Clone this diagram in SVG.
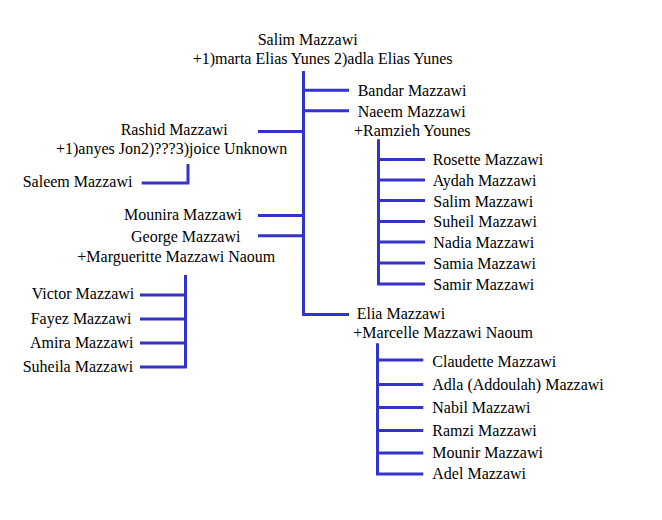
<svg xmlns="http://www.w3.org/2000/svg" width="662" height="520" viewBox="0 0 662 520">
<style>
text{font-family:"Liberation Serif","Times New Roman",serif;font-size:16px;fill:#000}
.c{fill:none;stroke:#3333cc;stroke-width:3}
</style>
<rect width="662" height="520" fill="#fff"/>
<g id="connectors">
<path class="c" d="M303.5 71V316M303.5 90.3H349M303.5 110.8H349M258 131.5H303.5M258 215.5H303.5M258 235.8H303.5M303.5 314.5H349"/>
<path class="c" d="M188 164V183H141.7"/>
<path class="c" d="M185.5 275V368.5M140 295H185.5M140 319H185.5M140 343H185.5M140 367H185.5"/>
<path class="c" d="M378.5 139.3V285.5M378.5 159.5H425M378.5 180H425M378.5 200.5H425M378.5 221.5H425M378.5 242H425M378.5 263H425M378.5 284H425"/>
<path class="c" d="M377.5 343.3V475.5M377.5 360H423.3M377.5 384.5H423.3M377.5 407.5H423.3M377.5 430.5H423.3M377.5 453H423.3M377.5 474H423.3"/>
</g>
<g id="nodes" transform="translate(0,1)">
<g id="salim"><text x="257.7" y="44">Salim Mazzawi</text><text x="192.7" y="63">+1)marta Elias Yunes 2)adla Elias Yunes</text></g>
<g id="bandar"><text x="357.7" y="95">Bandar Mazzawi</text></g>
<g id="naeem"><text x="357.7" y="116">Naeem Mazzawi</text><text x="354" y="135">+Ramzieh Younes</text></g>
<g id="rashid"><text x="120.7" y="134">Rashid Mazzawi</text><text x="56" y="152.7">+1)anyes Jon2)???3)joice Unknown</text></g>
<g id="saleem"><text x="22.7" y="186">Saleem Mazzawi</text></g>
<g id="mounira"><text x="124" y="219.3">Mounira Mazzawi</text></g>
<g id="george"><text x="131" y="240.7">George Mazzawi</text><text x="77.3" y="260.7">+Margueritte Mazzawi Naoum</text></g>
<g id="victor"><text x="31.7" y="298.3">Victor Mazzawi</text></g>
<g id="fayez"><text x="30.7" y="322.7">Fayez Mazzawi</text></g>
<g id="amira"><text x="30" y="347.3">Amira Mazzawi</text></g>
<g id="suheila"><text x="22.7" y="370.7">Suheila Mazzawi</text></g>
<g id="rosette"><text x="432.7" y="164">Rosette Mazzawi</text></g>
<g id="aydah"><text x="432.7" y="185">Aydah Mazzawi</text></g>
<g id="salim2"><text x="433.3" y="205.7">Salim Mazzawi</text></g>
<g id="suheil"><text x="433.3" y="226">Suheil Mazzawi</text></g>
<g id="nadia"><text x="433.3" y="247.3">Nadia Mazzawi</text></g>
<g id="samia"><text x="433.3" y="268.3">Samia Mazzawi</text></g>
<g id="samir"><text x="433.3" y="289">Samir Mazzawi</text></g>
<g id="elia"><text x="356.7" y="318.3">Elia Mazzawi</text><text x="353.3" y="336.7">+Marcelle Mazzawi Naoum</text></g>
<g id="claudette"><text x="432.3" y="366">Claudette Mazzawi</text></g>
<g id="adla"><text x="432.3" y="389.3">Adla (Addoulah) Mazzawi</text></g>
<g id="nabil"><text x="432.3" y="411.7">Nabil Mazzawi</text></g>
<g id="ramzi"><text x="432.3" y="435">Ramzi Mazzawi</text></g>
<g id="mounir"><text x="432.3" y="457.3">Mounir Mazzawi</text></g>
<g id="adel"><text x="432.3" y="478.3">Adel Mazzawi</text></g>
</g>
</svg>
